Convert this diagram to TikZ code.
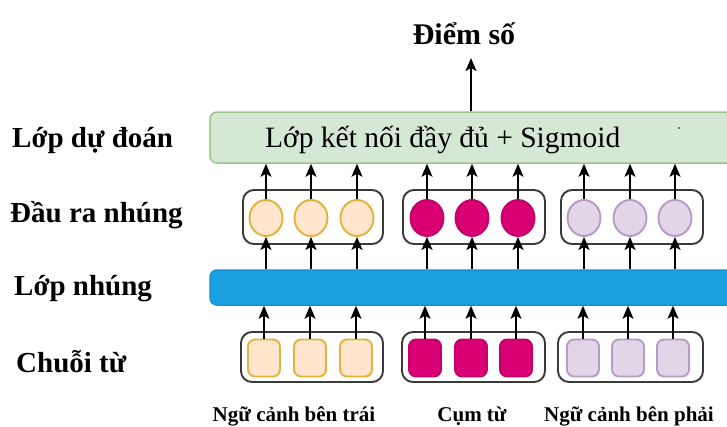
\documentclass[tikz,border=0pt]{standalone}
\usepackage{fontspec}
\setmainfont{Liberation Serif}
\usetikzlibrary{arrows.meta,shapes.geometric}

\definecolor{fcfill}{HTML}{D5E8D4}
\definecolor{fcline}{HTML}{9AC48A}
\definecolor{embfill}{HTML}{1BA1E2}
\definecolor{embline}{HTML}{1593D0}
\definecolor{lfill}{HTML}{FFE6CC}
\definecolor{lline}{HTML}{E3B23C}
\definecolor{pfill}{HTML}{D80073}
\definecolor{pline}{HTML}{C2006A}
\definecolor{rfill}{HTML}{E1D5E7}
\definecolor{rline}{HTML}{B69BC6}
\definecolor{grpline}{HTML}{3A3A3A}

\tikzset{
  lbl/.style={font=\fontsize{29}{33}\selectfont\bfseries, anchor=base west, inner sep=0},
  grpcaption/.style={font=\fontsize{21}{25}\selectfont\bfseries, anchor=base, inner sep=0},
  layerbox/.style={rectangle, rounded corners=7pt, line width=1.5pt, inner sep=0},
  grp/.style={rectangle, rounded corners=11pt, draw=grpline, line width=1.9pt, inner sep=0},
  tok/.style={ellipse, minimum width=33pt, minimum height=36pt, line width=1.9pt, inner sep=0},
  wrd/.style={rectangle, rounded corners=7pt, minimum width=32pt, minimum height=37pt, line width=1.9pt, inner sep=0},
  arr/.style={draw=black, line width=1.7pt, -{Stealth[length=13pt,width=11pt,inset=3pt]}},
}

\begin{document}
\begin{tikzpicture}[x=1pt,y=-1pt]
\clip (0,0) rectangle (727,426);
\fill[white] (0,0) rectangle (727,426);

% layer names on the left
\node[lbl] (lpred) at (12,147) {Lớp dự đoán};
\node[lbl] (lout)  at (10,222) {Đầu ra nhúng};
\node[lbl] (lemb)  at (14,295) {Lớp nhúng};
\node[lbl] (lseq)  at (16,372) {Chuỗi từ};

% prediction layer and score
\node[layerbox, fill=fcfill, draw=fcline, minimum width=540pt, minimum height=51pt] (fc) at (480,137.5) {};
\node[font=\fontsize{29.5}{33}\selectfont, anchor=base west, inner sep=0] (fctext) at (265,147) {Lớp kết nối đầy đủ + Sigmoid};
\fill (679,128) circle (0.8pt);
\node[font=\fontsize{30}{34}\selectfont\bfseries, anchor=base, inner sep=0] (score) at (464,44) {Điểm số};
\coordinate (scoretip) at (471,58);
\draw[arr] (fc.north -| scoretip) -- (scoretip);

% embedding layer
\node[layerbox, fill=embfill, draw=embline, minimum width=540pt, minimum height=35pt] (emb) at (480,287.5) {};

% output embedding groups
\node[grp, minimum width=140pt, minimum height=54pt] (og1) at (313,217) {};
\node[grp, minimum width=142pt, minimum height=54pt] (og2) at (474,217) {};
\node[grp, minimum width=142pt, minimum height=54pt] (og3) at (632,217) {};

\node[tok, fill=lfill, draw=lline] (o1) at (266,218) {};
\node[tok, fill=lfill, draw=lline] (o2) at (311,218) {};
\node[tok, fill=lfill, draw=lline] (o3) at (357,218) {};
\node[tok, fill=pfill, draw=pline] (o4) at (427,218) {};
\node[tok, fill=pfill, draw=pline] (o5) at (472,218) {};
\node[tok, fill=pfill, draw=pline] (o6) at (518,218) {};
\node[tok, fill=rfill, draw=rline] (o7) at (584,218) {};
\node[tok, fill=rfill, draw=rline] (o8) at (630,218) {};
\node[tok, fill=rfill, draw=rline] (o9) at (675,218) {};

% word sequence groups
\node[grp, minimum width=142pt, minimum height=50pt] (ig1) at (312,357) {};
\node[grp, minimum width=143pt, minimum height=50pt] (ig2) at (473.5,357) {};
\node[grp, minimum width=145pt, minimum height=50pt] (ig3) at (630.5,357) {};

\node[wrd, fill=lfill, draw=lline] (w1) at (264,358) {};
\node[wrd, fill=lfill, draw=lline] (w2) at (310,358) {};
\node[wrd, fill=lfill, draw=lline] (w3) at (356,358) {};
\node[wrd, fill=pfill, draw=pline] (w4) at (425,358) {};
\node[wrd, fill=pfill, draw=pline] (w5) at (471,358) {};
\node[wrd, fill=pfill, draw=pline] (w6) at (516,358) {};
\node[wrd, fill=rfill, draw=rline] (w7) at (583,358) {};
\node[wrd, fill=rfill, draw=rline] (w8) at (628,358) {};
\node[wrd, fill=rfill, draw=rline] (w9) at (673,358) {};

% connections between layers
\foreach \i in {1,...,9} {
  \draw[arr] (o\i.north) -- (o\i.north |- fc.south);
  \draw[arr] (o\i.south |- emb.north) -- (o\i.south);
  \draw[arr] (w\i.north) -- (w\i.north |- emb.south);
}

% group captions
\node[grpcaption] (cleft)  at (294,421.5) {Ngữ cảnh bên trái};
\node[grpcaption] (cmid)   at (472,421.5) {Cụm từ};
\node[grpcaption] (cright) at (629,421.5) {Ngữ cảnh bên phải};
\end{tikzpicture}
\end{document}
